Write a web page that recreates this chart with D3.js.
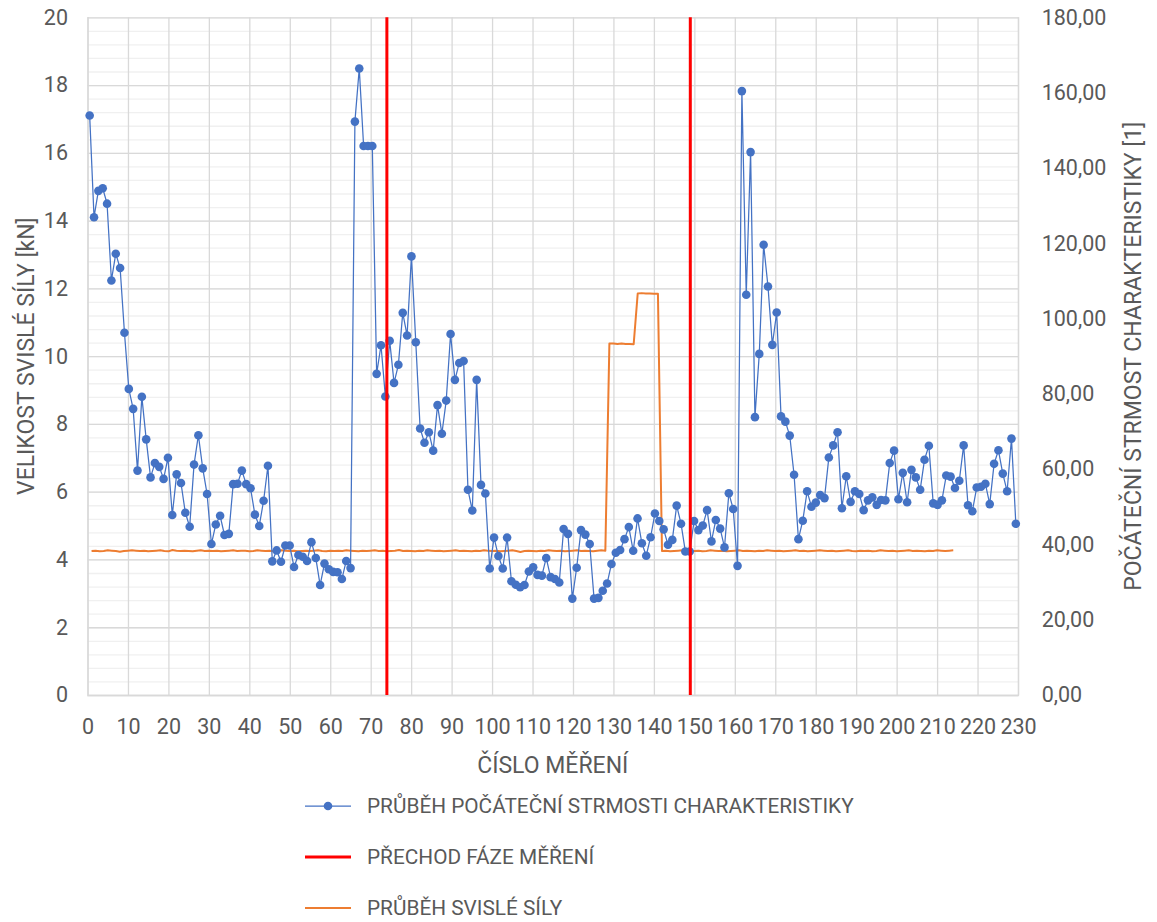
<!DOCTYPE html>
<html lang="cs">
<head>
    <meta charset="UTF-8">
    <title>Počáteční strmost charakteristiky</title>
    <script src="https://cdnjs.cloudflare.com/ajax/libs/d3/7.8.5/d3.min.js"></script>
    <style>
        body { margin: 0; background: #fff; }
        svg text { font-family: Roboto, "Open Sans", sans-serif; fill: #595959; }
    </style>
</head>
<body>
<svg width="1157" height="922"></svg>

<script>
    // tick labels
    const xTickLabels = [0, 10, 20, 30, 40, 50, 60, 70, 80, 90, 100, 110, 120, 130, 140, 150, 160, 170, 180, 190, 200, 210, 220, 230];
    const leftTicks = [0, 2, 4, 6, 8, 10, 12, 14, 16, 18, 20];
    const rightTicks = [0, 20, 40, 60, 80, 100, 120, 140, 160, 180];

    // measurement numbers where the phase changes
    const phaseChanges = [74, 149];

    // počáteční strmost charakteristiky [1] (right axis), one value per measurement
    const strmost = [
        153.9, 126.9, 133.9, 134.6, 130.5, 110.1, 117.2, 113.4, 96.2, 81.3,
        76.0, 59.6, 79.2, 67.9, 57.8, 61.6, 60.6, 57.4, 63.0, 47.8,
        58.6, 56.3, 48.4, 44.7, 61.2, 69.0, 60.2, 53.4, 40.1, 45.3,
        47.6, 42.5, 42.8, 56.0, 56.1, 59.6, 56.0, 54.9, 47.9, 44.9,
        51.6, 60.9, 35.5, 38.4, 35.4, 39.7, 39.7, 34.0, 37.2, 36.7,
        35.6, 40.6, 36.4, 29.2, 34.9, 33.4, 32.7, 32.6, 30.8, 35.6,
        33.7, 152.3, 166.4, 145.8, 145.8, 145.8, 85.3, 92.9, 79.3, 94.1,
        82.9, 87.7, 101.5, 95.5, 116.5, 93.7, 70.8, 67.0, 69.8, 64.9,
        77.0, 69.4, 78.2, 95.9, 83.7, 88.2, 88.7, 54.5, 49.0, 83.7,
        55.8, 53.5, 33.6, 41.8, 36.9, 33.6, 41.8, 30.2, 29.3, 28.6,
        29.2, 32.8, 33.9, 31.9, 31.7, 36.4, 31.3, 30.8, 29.9, 44.1,
        42.8, 25.6, 33.8, 43.8, 42.6, 40.1, 25.6, 25.8, 27.7, 29.6,
        34.8, 37.8, 38.5, 41.4, 44.6, 38.3, 46.9, 40.3, 37.0, 41.9,
        48.2, 46.2, 44.0, 39.9, 41.2, 50.3, 45.5, 38.1, 38.1, 46.2,
        43.8, 45.0, 49.1, 40.8, 46.5, 44.2, 39.2, 53.6, 49.4, 34.3,
        160.4, 106.3, 144.2, 73.8, 90.6, 119.6, 108.5, 93.0, 101.6, 74.0,
        72.6, 68.9, 58.5, 41.4, 46.3, 54.1, 50.0, 51.1, 53.1, 52.3,
        63.1, 66.3, 69.8, 49.6, 58.1, 51.3, 54.1, 53.4, 49.1, 51.7,
        52.5, 50.5, 51.8, 51.7, 61.6, 64.9, 52.0, 59.0, 51.2, 59.8,
        57.8, 54.5, 62.5, 66.2, 50.9, 50.5, 51.7, 58.3, 58.0, 55.0,
        56.9, 66.3, 50.4, 48.8, 55.1, 55.3, 56.1, 50.7, 61.4, 65.0,
        58.8, 54.1, 68.1, 45.5
    ];

    // velikost svislé síly [kN] (left axis), measurement 1..214
    const svislaSila = [
        4.25, 4.26, 4.24, 4.25, 4.27, 4.26, 4.25, 4.23, 4.25, 4.26,
        4.27, 4.26, 4.25, 4.26, 4.24, 4.25, 4.26, 4.27, 4.25, 4.24,
        4.28, 4.26, 4.25, 4.26, 4.25, 4.24, 4.26, 4.27, 4.25, 4.26,
        4.25, 4.26, 4.24, 4.25, 4.26, 4.27, 4.25, 4.26, 4.26, 4.24,
        4.25, 4.27, 4.26, 4.25, 4.26, 4.24, 4.25, 4.27, 4.26, 4.25,
        4.26, 4.24, 4.25, 4.26, 4.25, 4.26, 4.27, 4.25, 4.24, 4.26,
        4.25, 4.26, 4.25, 4.27, 4.26, 4.25, 4.24, 4.26, 4.25, 4.26,
        4.27, 4.25, 4.26, 4.24, 4.25, 4.26, 4.28, 4.25, 4.26, 4.25,
        4.24, 4.26, 4.25, 4.27, 4.26, 4.25, 4.26, 4.24, 4.25, 4.26,
        4.27, 4.25, 4.26, 4.25, 4.24, 4.26, 4.25, 4.27, 4.26, 4.25,
        4.26, 4.24, 4.25, 4.26, 4.27, 4.25, 4.22, 4.25, 4.26, 4.25,
        4.24, 4.26, 4.25, 4.27, 4.26, 4.25, 4.26, 4.24, 4.25, 4.26,
        4.27, 4.25, 4.26, 4.25, 4.24, 4.26, 4.27, 4.26,
        10.37, 10.37, 10.36, 10.37, 10.36, 10.36, 10.35,
        11.85, 11.86, 11.85, 11.85, 11.84, 11.84,
        4.25, 4.26, 4.24, 4.25, 4.26, 4.27, 4.25, 4.26, 4.25,
        4.26, 4.24, 4.25, 4.27, 4.26, 4.25, 4.26, 4.24, 4.25, 4.26,
        4.27, 4.25, 4.26, 4.25, 4.24, 4.26, 4.25, 4.27, 4.26, 4.25,
        4.26, 4.24, 4.25, 4.26, 4.27, 4.25, 4.26, 4.24, 4.25, 4.26,
        4.27, 4.26, 4.25, 4.26, 4.24, 4.25, 4.26, 4.27, 4.25, 4.24,
        4.26, 4.25, 4.26, 4.24, 4.25, 4.27, 4.26, 4.25, 4.26, 4.24,
        4.25, 4.26, 4.27, 4.25, 4.26, 4.25, 4.24, 4.26, 4.25, 4.27,
        4.26, 4.25, 4.26, 4.27
    ];

    const legendItems = [
        { label: "PRŮBĚH POČÁTEČNÍ STRMOSTI CHARAKTERISTIKY", color: "#4472C4", width: 1.25, marker: true },
        { label: "PŘECHOD FÁZE MĚŘENÍ", color: "#FF0000", width: 3, marker: false },
        { label: "PRŮBĚH SVISLÉ SÍLY", color: "#ED7D31", width: 2, marker: false }
    ];

    const svg = d3.select("svg");
    const plot = { left: 87.5, right: 1018, top: 17.3, bottom: 695 };
    const plotWidth = plot.right - plot.left;
    const plotHeight = plot.bottom - plot.top;

    const x = d3.scaleLinear().domain([0, 230]).range([plot.left, plot.right]);
    // blue series sits on its own (hidden) category axis
    const xCat = d3.scalePoint()
        .domain(strmost.map((d, i) => i + 1))
        .range([plot.left, plot.right])
        .padding(0.5);
    const yLeft = d3.scaleLinear().domain([0, 20]).range([plot.bottom, plot.top]);
    const yRight = d3.scaleLinear().domain([0, 180]).range([plot.bottom, plot.top]);

    const fmtComma = v => d3.format(".2f")(v).replace(".", ",");

    // minor gridlines
    const minorTicks = d3.range(0, 20.001, 0.4);
    svg.append("g")
        .attr("transform", `translate(${plot.left},0)`)
        .call(d3.axisLeft(yLeft).tickValues(minorTicks).tickSize(-plotWidth).tickFormat(""))
        .call(g => g.select(".domain").remove())
        .call(g => g.selectAll("line").attr("stroke", "#f0f0f0").attr("stroke-width", 1.3));

    // major horizontal gridlines + left labels
    svg.append("g")
        .attr("transform", `translate(${plot.left},0)`)
        .call(d3.axisLeft(yLeft).tickValues(leftTicks).tickSize(-plotWidth).tickPadding(19.5).tickFormat(d3.format("d")))
        .call(g => g.select(".domain").remove())
        .call(g => g.selectAll("line").attr("stroke", "#d9d9d9").attr("stroke-width", 1.3))
        .call(g => g.selectAll("text").attr("font-size", 21.5).attr("fill", "#595959"));

    // vertical gridlines + bottom labels
    svg.append("g")
        .attr("transform", `translate(0,${plot.bottom})`)
        .call(d3.axisBottom(x).tickValues(xTickLabels).tickSize(-plotHeight).tickPadding(24).tickFormat(d3.format("d")))
        .call(g => g.select(".domain").attr("stroke", "#d9d9d9").attr("stroke-width", 1.3))
        .call(g => g.selectAll("line").attr("stroke", "#d9d9d9").attr("stroke-width", 1.3))
        .call(g => g.selectAll("text").attr("font-size", 21.5).attr("fill", "#595959"));

    // right labels
    svg.append("g")
        .attr("transform", `translate(${plot.right},0)`)
        .call(d3.axisRight(yRight).tickValues(rightTicks).tickSize(0).tickPadding(23.7).tickFormat(fmtComma))
        .call(g => g.select(".domain").remove())
        .call(g => g.selectAll("text").attr("font-size", 21.5).attr("fill", "#595959"));

    // průběh svislé síly
    const orangeLine = d3.line()
        .x((d, i) => x(i + 1))
        .y(d => yLeft(d));
    svg.append("path")
        .datum(svislaSila)
        .attr("d", orangeLine)
        .attr("fill", "none")
        .attr("stroke", "#ED7D31")
        .attr("stroke-width", 2)
        .attr("stroke-linejoin", "round");

    // průběh počáteční strmosti
    const blueLine = d3.line()
        .x((d, i) => xCat(i + 1))
        .y(d => yRight(d));
    svg.append("path")
        .datum(strmost)
        .attr("d", blueLine)
        .attr("fill", "none")
        .attr("stroke", "#4472C4")
        .attr("stroke-width", 1.25)
        .attr("stroke-linejoin", "round");

    svg.append("g")
        .selectAll("circle")
        .data(strmost)
        .enter()
        .append("circle")
        .attr("cx", (d, i) => xCat(i + 1))
        .attr("cy", d => yRight(d))
        .attr("r", 4.3)
        .attr("fill", "#4472C4");

    // přechod fáze měření
    svg.append("g")
        .selectAll("line")
        .data(phaseChanges)
        .enter()
        .append("line")
        .attr("x1", d => x(d))
        .attr("x2", d => x(d))
        .attr("y1", yLeft(0))
        .attr("y2", yLeft(20))
        .attr("stroke", "#FF0000")
        .attr("stroke-width", 3);

    // axis titles
    svg.append("text")
        .attr("transform", `translate(34,${(plot.top + plot.bottom) / 2}) rotate(-90)`)
        .attr("text-anchor", "middle")
        .attr("font-size", 23)
        .text("VELIKOST SVISLÉ SÍLY [kN]");

    svg.append("text")
        .attr("transform", `translate(1141,${(plot.top + plot.bottom) / 2}) rotate(-90)`)
        .attr("text-anchor", "middle")
        .attr("font-size", 23)
        .text("POČÁTEČNÍ STRMOST CHARAKTERISTIKY [1]");

    svg.append("text")
        .attr("x", (plot.left + plot.right) / 2)
        .attr("y", 773)
        .attr("text-anchor", "middle")
        .attr("font-size", 23)
        .text("ČÍSLO MĚŘENÍ");

    // legend
    const legend = svg.append("g").attr("transform", "translate(305,806)");
    const item = legend.selectAll("g")
        .data(legendItems)
        .enter()
        .append("g")
        .attr("transform", (d, i) => `translate(0,${i * 51})`);

    item.append("line")
        .attr("x1", 0)
        .attr("x2", 46)
        .attr("stroke", d => d.color)
        .attr("stroke-width", d => d.width);

    item.filter(d => d.marker)
        .append("circle")
        .attr("cx", 23)
        .attr("r", 4.3)
        .attr("fill", d => d.color);

    item.append("text")
        .attr("x", 62)
        .attr("dy", "0.35em")
        .attr("font-size", 20.8)
        .text(d => d.label);
</script>
</body>
</html>
